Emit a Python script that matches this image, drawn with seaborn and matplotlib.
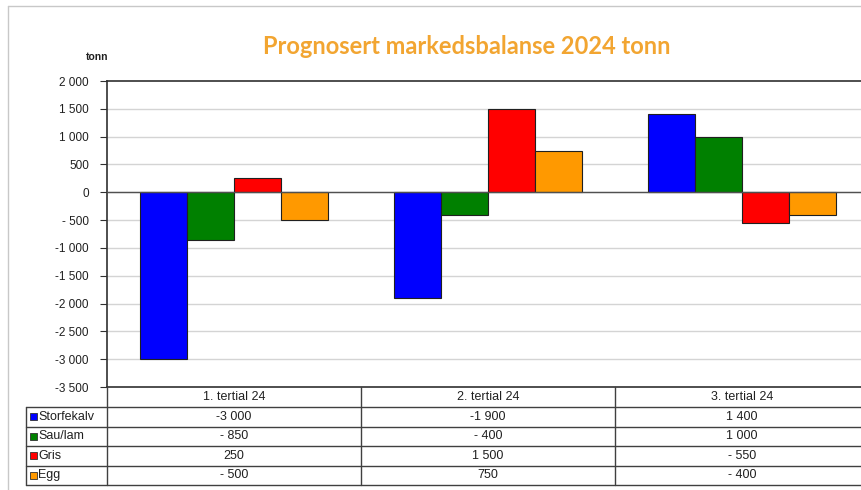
import pandas as pd
import seaborn as sns
import matplotlib.pyplot as plt
from matplotlib.patches import Rectangle

perioder = ['1. tertial 24', '2. tertial 24', '3. tertial 24']
serier = ['Storfekalv', 'Sau/lam', 'Gris', 'Egg']
storfe = [-3000, -1900, 1400]
sau = [-850, -400, 1000]
gris = [250, 1500, -550]
egg = [-500, 750, -400]
farger = ['#0000FF', '#008000', '#FF0000', '#FF9900']
yticks = list(range(-3500, 2001, 500))

verdier = [storfe, sau, gris, egg]
rows = []
for s, vals in zip(serier, verdier):
    for p, v in zip(perioder, vals):
        rows.append({'periode': p, 'serie': s, 'verdi': v})
df = pd.DataFrame(rows)


def fmt(v):
    # norsk tallformat: mellomrom som tusenskille, "- 500" for tresifrede negative
    s = f"{abs(v):,}".replace(',', ' ')
    if v < 0:
        return ('-' if abs(v) >= 1000 else '- ') + s
    return s


sns.set_style('white')
plt.rcParams['font.family'] = ['Liberation Sans', 'DejaVu Sans']

W, H = 861, 490
fig = plt.figure(figsize=(W / 100, H / 100), dpi=100)

# plot-område i piksler
x0, x1 = 107, 869
ytop, ybot = 81, 387
ax = fig.add_axes([x0 / W, 1 - ybot / H, (x1 - x0) / W, (ybot - ytop) / H])

sns.barplot(data=df, x='periode', y='verdi', hue='serie', order=perioder,
            hue_order=serier, palette=farger, saturation=1, width=0.74,
            edgecolor='#202020', linewidth=0.8, legend=False, ax=ax, zorder=3)

ax.set_xlim(-0.5, 2.5)
ax.set_ylim(-3500, 2000)
ax.set_yticks(yticks)
ax.set_yticklabels([fmt(t) for t in yticks], fontsize=8.5)
ax.set_xticks([])
ax.set_xlabel('')
ax.set_ylabel('')
for t in yticks[1:-1]:
    ax.axhline(t, color='#d4d4d4', linewidth=1, zorder=1)
ax.axhline(0, color='#505050', linewidth=1, zorder=4)
for sp in ['left', 'bottom', 'top']:
    ax.spines[sp].set_color('#303030')
    ax.spines[sp].set_linewidth(1.2)
ax.spines['right'].set_visible(False)
ax.tick_params(axis='y', which='major', left=True, length=5, width=0.8,
               color='#303030', pad=8, labelcolor='#202020')

# overlegg i pikselkoordinater for tittel, tabell og ramme
ov = fig.add_axes([0, 0, 1, 1], zorder=5)
ov.set_xlim(0, W)
ov.set_ylim(H, 0)
ov.axis('off')
ov.patch.set_alpha(0)

ov.plot([8, W], [6, 6], color='#c8c8c8', lw=1)
ov.plot([8, 8], [6, H], color='#c8c8c8', lw=1)

ov.text(467, 46, 'Prognosert markedsbalanse 2024 tonn', ha='center', va='center',
        fontsize=17, fontweight='bold', color='#F2A531', family=['Lato', 'DejaVu Sans'])
ov.text(97, 57, 'tonn', ha='center', va='center', fontsize=7.5, fontweight='bold',
        color='#202020')

# datatabell
kol = [x0 + i * (x1 - x0) / 3 for i in range(4)]
rad = [387, 407, 426.5, 446, 465.5, 485]
lc = '#404040'
for y in rad[1:]:
    ov.plot([26, x1], [y, y], color=lc, lw=1)
ov.plot([26, 26], [rad[1], rad[-1]], color=lc, lw=1)
for x in kol[:-1]:
    ov.plot([x, x], [rad[0], rad[-1]], color=lc, lw=1)

for i, p in enumerate(perioder):
    ov.text((kol[i] + kol[i + 1]) / 2, (rad[0] + rad[1]) / 2, p, ha='center',
            va='center', fontsize=9, color='#202020')

for r, (s, vals, c) in enumerate(zip(serier, verdier, farger)):
    yc = (rad[r + 1] + rad[r + 2]) / 2
    ov.add_patch(Rectangle((29.5, yc - 3.5), 7, 7, facecolor=c, edgecolor='#303030',
                           lw=0.6))
    ov.text(38, yc, s, ha='left', va='center', fontsize=9, color='#202020')
    for i, v in enumerate(vals):
        ov.text((kol[i] + kol[i + 1]) / 2, yc, fmt(v), ha='center', va='center',
                fontsize=9, color='#202020')

fig.savefig('out.png', dpi=100, facecolor='white')
